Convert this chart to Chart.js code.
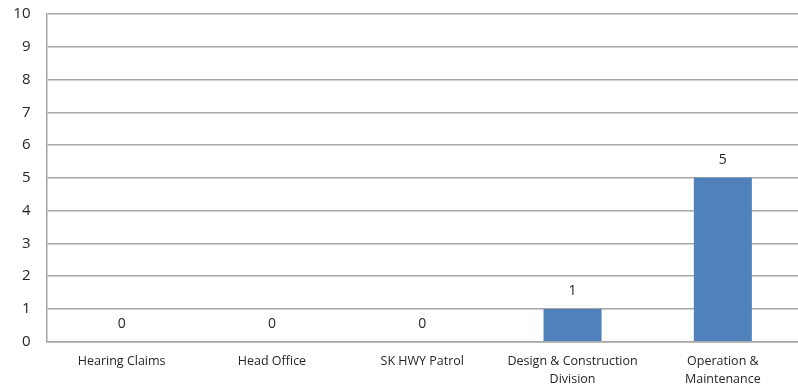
<!DOCTYPE html>
<html>
<head>
<meta charset="utf-8">
<script src="https://cdn.jsdelivr.net/npm/chart.js@4/dist/chart.umd.min.js"></script>
<style>
  html, body { margin: 0; padding: 0; background: #fff; }
  #wrap { width: 798px; height: 385px; position: relative; }
</style>
</head>
<body>
<div id="wrap"><canvas id="chart"></canvas></div>
<script>
// ── Claims by division ──
const categories = [
  'Hearing Claims',
  'Head Office',
  'SK HWY Patrol',
  ['Design & Construction', 'Division'],
  ['Operation &', 'Maintenance']
];
const claimCounts = [0, 0, 0, 1, 5];
const yTicks = [0, 1, 2, 3, 4, 5, 6, 7, 8, 9, 10];

const FONT = '"Open Sans", Lato, sans-serif';
const GRID = '#A6A6A6';

// value labels above each bar
const valueLabels = {
  id: 'valueLabels',
  afterDatasetsDraw(chart) {
    const ctx = chart.ctx;
    const meta = chart.getDatasetMeta(0);
    ctx.save();
    ctx.font = '14px ' + FONT;
    ctx.fillStyle = '#262626';
    ctx.textAlign = 'center';
    ctx.textBaseline = 'middle';
    meta.data.forEach((bar, i) => {
      ctx.fillText(String(claimCounts[i]), bar.x, bar.y - 18);
    });
    ctx.restore();
  }
};

new Chart(document.getElementById('chart'), {
  type: 'bar',
  data: {
    labels: categories,
    datasets: [{
      data: claimCounts,
      backgroundColor: '#4F81BD',
      borderWidth: 0,
      barPercentage: 0.386,
      categoryPercentage: 1
    }]
  },
  options: {
    responsive: true,
    maintainAspectRatio: false,
    animation: false,
    layout: { padding: { top: 14, right: 0, bottom: 0, left: 0 } },
    plugins: {
      legend: { display: false },
      tooltip: { enabled: false }
    },
    scales: {
      x: {
        grid: { display: false, drawTicks: false },
        border: { color: GRID, width: 1.5 },
        ticks: {
          color: '#262626',
          font: { size: 12.5, family: FONT, lineHeight: 1.4 },
          padding: 11,
          maxRotation: 0,
          autoSkip: false
        },
        afterFit: (s) => {
          s.height = 43.3;
          s.paddingLeft = 0; s.paddingRight = 0;
        }
      },
      y: {
        min: 0,
        max: 10,
        afterBuildTicks: (s) => { s.ticks = yTicks.map(v => ({ value: v })); },
        grid: { color: GRID, lineWidth: 1.5, drawTicks: false },
        border: { color: GRID, width: 1.5 },
        ticks: {
          color: '#262626',
          font: { size: 15, family: FONT },
          padding: 16
        },
        afterFit: (s) => {
          s.width = 46.5;
          s.paddingTop = 0; s.paddingBottom = 0;
        }
      }
    }
  },
  plugins: [valueLabels]
});
</script>
</body>
</html>
